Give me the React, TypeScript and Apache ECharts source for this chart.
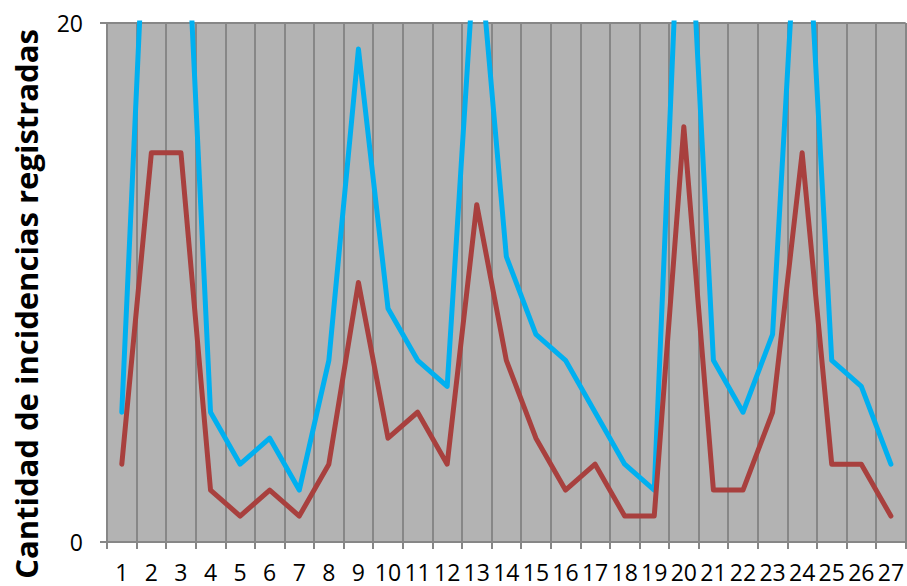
import React, { useEffect, useRef } from "react";
import * as echarts from "echarts";

const categories = ["1","2","3","4","5","6","7","8","9","10","11","12","13","14","15","16","17","18","19","20","21","22","23","24","25","26","27"];
const blueValues = [5, 30, 29, 5, 3, 4, 2, 7, 19, 9, 7, 6, 24, 11, 8, 7, 5, 3, 2, 29, 7, 5, 8, 28, 7, 6, 3];
const redValues = [3, 15, 15, 2, 1, 2, 1, 3, 10, 4, 5, 3, 13, 7, 4, 2, 3, 1, 1, 16, 2, 2, 5, 15, 3, 3, 1];
const yMin = 0;
const yMax = 20;
const yTitle = "Cantidad de incidencias registradas";

export default function App() {
  const ref = useRef<HTMLDivElement>(null);
  useEffect(() => {
    if (!ref.current) return;
    const chart = echarts.init(ref.current, undefined, { renderer: "svg" });
    const gridColor = "#878787";
    chart.setOption({
      animation: false,
      backgroundColor: "#ffffff",
      grid: { left: 107, top: 23, width: 801, height: 519, backgroundColor: "#B3B3B3", show: true, borderWidth: 0 },
      xAxis: {
        type: "category",
        data: categories,
        boundaryGap: true,
        axisLine: { show: true, lineStyle: { color: gridColor, width: 2 } },
        axisTick: { show: true, length: 7, lineStyle: { color: gridColor, width: 2 } },
        axisLabel: { interval: 0, color: "#000", fontFamily: "Open Sans", fontSize: 23, margin: 18 },
        splitLine: { show: true, interval: 0, lineStyle: { color: gridColor, width: 2 } },
      },
      yAxis: {
        type: "value",
        min: yMin,
        max: yMax,
        interval: 20,
        axisLine: { show: false },
        axisTick: { show: true, length: 7, lineStyle: { color: gridColor, width: 2 } },
        axisLabel: { color: "#000", fontFamily: "Open Sans", fontSize: 23, margin: 24 },
        splitLine: { show: true, lineStyle: { color: gridColor, width: 2 } },
      },
      graphic: [
        {
          type: "text",
          x: 26,
          y: 304,
          rotation: Math.PI / 2,
          style: {
            text: yTitle,
            fill: "#000",
            font: "bold 31px 'Open Sans'",
            align: "center",
            verticalAlign: "middle",
          },
        },
      ],
      series: [
        {
          type: "line",
          data: blueValues,
          symbol: "none",
          clip: true,
          lineStyle: { color: "#00B0F0", width: 5, cap: "round", join: "round" },
          itemStyle: { color: "#00B0F0" },
        },
        {
          type: "line",
          data: redValues,
          symbol: "none",
          clip: true,
          lineStyle: { color: "#A8403E", width: 5, cap: "round", join: "round" },
          itemStyle: { color: "#A8403E" },
        },
      ],
    });
    return () => chart.dispose();
  }, []);
  return <div ref={ref} style={{ width: 907, height: 586, position: "fixed", left: 0, top: 0 }} />;
}
